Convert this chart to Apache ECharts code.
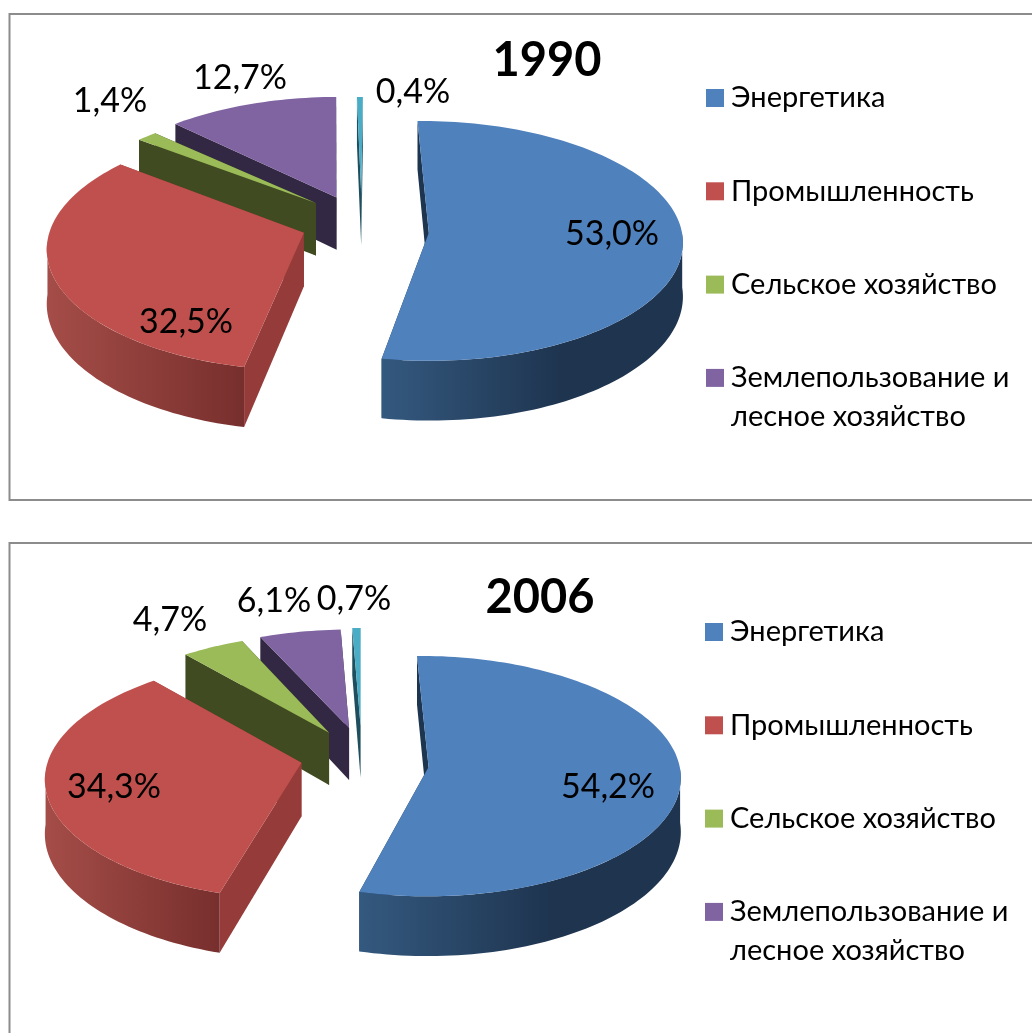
<!DOCTYPE html>
<html><head><meta charset="utf-8">
<style>html,body{margin:0;padding:0;background:#fff}#c{width:1032px;height:1033px}</style>
<script src="https://cdn.jsdelivr.net/npm/echarts@6/dist/echarts.min.js"></script>
</head><body><div id="c"></div>
<script>
// ---- data ----
const categories = ['Энергетика', 'Промышленность', 'Сельское хозяйство', 'Землепользование и лесное хозяйство', 'Прочее'];
const legendCategories = categories.slice(0, 4);
const years = ['1990', '2006'];
const values1990 = [53.0, 32.5, 1.4, 12.7, 0.4];
const values2006 = [54.2, 34.3, 4.7, 6.1, 0.7];
const valuesByYear = [values1990, values2006];

// ---- styles and layout ----
const FONT = 'Lato, Carlito, "Open Sans", sans-serif';
const colors = ['#4f81bd', '#c0504d', '#9bbb59', '#8064a2', '#4bacc6'];
const faceColors = ['#1e3550', '#953b39', '#404b21', '#332843', '#1f4f5f'];
const wallStops = [
  [[0, '#34597f'], [0.6, '#1e344f'], [1, '#1e344f']],
  [[0, '#a54d48'], [1, '#772f2d']],
  [[0, '#404b21'], [1, '#404b21']],
  [[0, '#332843'], [1, '#332843']],
  [[0, '#1f4f5f'], [1, '#1f4f5f']]
];
const view = { cx: 362, rx: 256, ry: 117.3, kx: 0.06, ky: 0.1256, wall: 53.4, kw: 0.1036, explode: 0.254, bump: 8 };
const centerY = [222, 755];
// boundary correction of the 3D projection, degrees, [start, end] of each slice
const angleNudge = [
  [[-1.1, -0.6], [1.2, 3.2], [5, 5], [5, 1], [0.4, 0.4]],
  [[-0.7, -0.6], [1.7, 3.2], [4.4, 2.7], [2.5, 0.3], [0.5, 0]]
];
const sliceNudge = [
  [[-1, 1], [4, 0], [3, 3], [1, 0], [0, 2]],
  [[-3, 2], [4, 1], [2, 2], [2, 1], [0, 0]]
];
const apexExtra = [
  [[3, 7], [-1, 0], [0, -3], [0, 2], [0, -2]],
  [[5, 6], [-1, 0], [0, 0], [0, 0], [0, 0]]
];
const labelOffset = [
  [[250, 12], [-176, 100], [-252, -121], [-122, -144], [51, -130]],
  [[246, 32], [-248, 32], [-192, -135], [-88, -154], [-8, -156]]
];
const titlePos = [[547, 61], [540, 598]];
const legendPos = [[706, 78.5], [705, 612.5]];
const legendSecondLine = [[731, 417], [730, 951]];

function project(u, v, cy, nudge) {
  return [
    view.cx + view.rx * u / (1 + view.kx * v) + nudge[0],
    cy - view.ry * v / (1 + view.ky * v) + nudge[1]
  ];
}
function drop(p, v) {
  return [p[0], p[1] + view.wall / (1 + view.kw * v)];
}
function sliceItem(chartIdx, sliceIdx, value) {
  const vals = valuesByYear[chartIdx];
  const total = vals.reduce((a, b) => a + b, 0);
  const before = vals.slice(0, sliceIdx).reduce((a, b) => a + b, 0);
  const a0 = before / total * 360, a1 = (before + value) / total * 360;
  const mid = (a0 + a1) / 2 * Math.PI / 180;
  const ou = view.explode * Math.sin(mid), ov = view.explode * Math.cos(mid);
  const cy = centerY[chartIdx], nudge = sliceNudge[chartIdx][sliceIdx];
  const start = a0 + angleNudge[chartIdx][sliceIdx][0], end = a1 + angleNudge[chartIdx][sliceIdx][1];
  const rim = (from, to) => {
    const n = Math.max(2, Math.ceil((to - from) / 1.5));
    const out = [];
    for (let i = 0; i <= n; i++) {
      const r = (from + (to - from) * i / n) * Math.PI / 180;
      const u = ou + Math.sin(r), v = ov + Math.cos(r);
      const p = project(u, v, cy, nudge);
      p[1] += view.bump * Math.sin(r) * Math.sin(r);
      out.push({ p, v });
    }
    return out;
  };
  const base = project(ou, ov, cy, nudge);
  const extra = apexExtra[chartIdx][sliceIdx];
  const apex = [base[0] + extra[0], base[1] + extra[1]];
  const apexLow = drop(apex, ov);
  const arc = rim(start, end);
  const faceFor = pt => [apex, pt.p, drop(pt.p, pt.v), apexLow];
  const children = [];
  const poly = (points, fill) => children.push({
    type: 'polygon', shape: { points }, style: { fill, stroke: null }, silent: true
  });
  poly(faceFor(arc[0]), faceColors[sliceIdx]);
  poly(faceFor(arc[arc.length - 1]), faceColors[sliceIdx]);
  const wf = Math.max(start, 90), wt = Math.min(end, 270);
  if (wt > wf) {
    const w = rim(wf, wt);
    const pts = w.map(q => q.p).concat(w.slice().reverse().map(q => drop(q.p, q.v)));
    const stops = wallStops[sliceIdx].map(s => ({ offset: s[0], color: s[1] }));
    poly(pts, new echarts.graphic.LinearGradient(0, 0, 1, 0, stops));
  }
  poly([apex].concat(arc.map(q => q.p)), colors[sliceIdx]);
  const off = labelOffset[chartIdx][sliceIdx];
  children.push({
    type: 'text', silent: true,
    style: {
      text: value.toFixed(1).replace('.', ',') + '%',
      x: view.cx + off[0], y: cy + off[1],
      align: 'center', verticalAlign: 'middle',
      fill: '#000', font: '34px ' + FONT
    }
  });
  return { type: 'group', children };
}

const drawOrder = [4, 3, 2, 1, 0]; // back to front
const series = [];
years.forEach((y, ci) => {
  drawOrder.forEach(si => {
    series.push({
      type: 'custom', name: categories[si], coordinateSystem: 'none',
      itemStyle: { color: colors[si] },
      data: [[valuesByYear[ci][si]]],
      silent: true, animation: false,
      renderItem: (p, api) => sliceItem(ci, si, api.value(0))
    });
  });
});

function firstLine(name) {
  return name === categories[3] ? 'Землепользование и' : name;
}
const legendText = { fontFamily: FONT, fontSize: 29, color: '#000', lineHeight: 39, padding: [0, 0, 0, 2] };

const option = {
  animation: false,
  backgroundColor: '#fff',
  title: years.map((y, i) => ({
    text: y, left: titlePos[i][0], top: titlePos[i][1], padding: 0,
    textAlign: 'center', textVerticalAlign: 'middle',
    textStyle: { fontFamily: FONT, fontSize: 47, fontWeight: 'bold', color: '#000' }
  })),
  legend: years.map((y, i) => ({
    data: legendCategories, orient: 'vertical', left: legendPos[i][0], top: legendPos[i][1],
    padding: 0, icon: 'rect', itemWidth: 18, itemHeight: 18, itemGap: 54.3,
    selectedMode: false, formatter: firstLine, textStyle: legendText
  })),
  graphic: [
    { type: 'rect', shape: { x: 9.5, y: 14, width: 1100, height: 486 }, style: { fill: null, stroke: '#8c8c8c', lineWidth: 2 }, silent: true },
    { type: 'rect', shape: { x: 9.5, y: 543, width: 1100, height: 600 }, style: { fill: null, stroke: '#8c8c8c', lineWidth: 2 }, silent: true },
    ...legendSecondLine.map(p => ({
      type: 'text', silent: true, x: p[0], y: p[1],
      style: { text: 'лесное хозяйство', fill: '#000', font: '29px ' + FONT, verticalAlign: 'middle' }
    }))
  ],
  series
};
const chart = echarts.init(document.getElementById('c'));
chart.setOption(option);
</script></body></html>
